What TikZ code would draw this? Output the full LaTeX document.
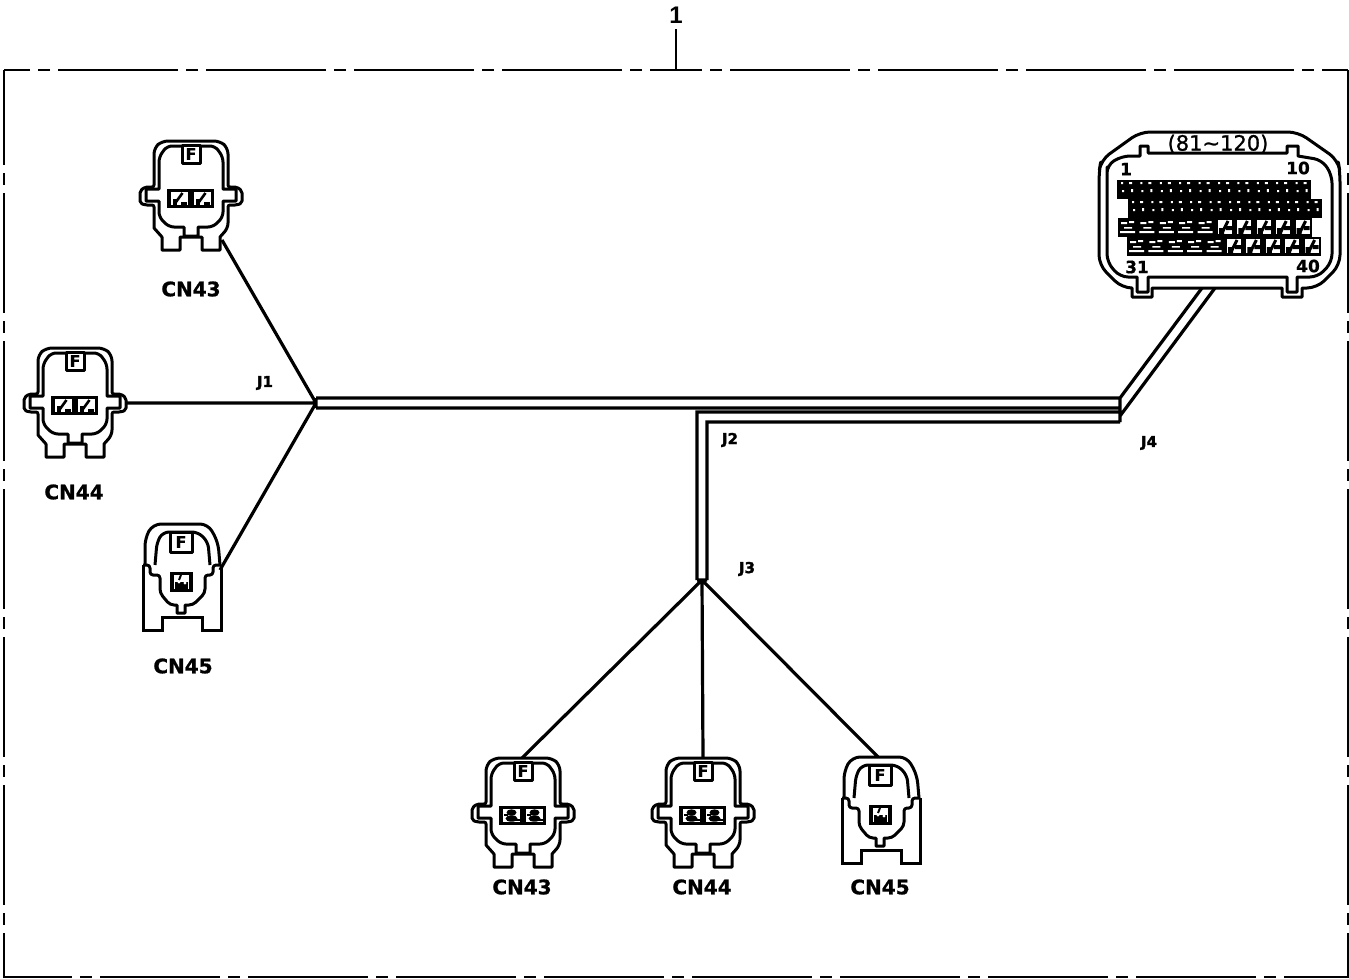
\documentclass[tikz,border=0pt]{standalone}
\usepackage{fontspec}
\setmainfont{DejaVu Sans}
\newfontfamily\arialfont{Liberation Sans}
\newcommand{\heavyfont}[1]{\bfseries\addfontfeature{FakeBold=#1}}
\tikzset{
	wire/.style={line width=3.2pt},
	shell/.style={line width=3pt,line join=round},
	rimline/.style={line width=2pt,dash pattern=on 120pt off 8pt on 12pt off 8pt},
	cnlabel/.style={font=\fontsize{20}{20}\selectfont\heavyfont{1},inner sep=0pt},
	jlabel/.style={font=\fontsize{15}{15}\selectfont\heavyfont{2},inner sep=0pt},
	pinlabel/.style={font=\fontsize{17}{17}\selectfont\heavyfont{0.6},inner sep=0pt},
}
\begin{document}
\begin{tikzpicture}[x=1pt,y=-1pt,line cap=butt]
	\useasboundingbox (0,0) rectangle (1349,978);
	\path
	(316,403) coordinate (J_1)
	(702,580) coordinate (J_3)
	(222,240) coordinate (T_1)
	(127,403) coordinate (T_2)
	(220,570) coordinate (T_3)
	(522,758) coordinate (T_4)
	(703,758) coordinate (T_5)
	(878,757) coordinate (T_6)
	(316,398) coordinate (U_1)
	(316,408) coordinate (U_2)
	(1120,398) coordinate (U_3)
	(1120,408) coordinate (U_4)
	(1120,412) coordinate (U_5)
	(1120,422) coordinate (U_6)
	(697,412) coordinate (V_1)
	(707,422) coordinate (V_2)
	(697,580) coordinate (V_3)
	(707,580) coordinate (V_4)
	(1202,288) coordinate (D_1)
	(1215,288) coordinate (D_2)
	(1120,416) coordinate (D_3)
	(676,70) coordinate (R_1)
	(676,29) coordinate (R_2)
	;
	% outer rim
	\draw[rimline,dash phase=94pt] (R_1)--(4,70);
	\draw[rimline,dash phase=94pt] (R_1)--(1348,70);
	\draw[rimline,dash phase=25pt,line width=2.6pt] (4,70)--(4,978);
	\draw[rimline,dash phase=25pt,line width=1.6pt] (1348,70)--(1348,978);
	\draw[rimline,dash phase=52pt,line width=1.6pt] (4,977)--(1348,977);
	\node[inner sep=0pt,font=\arialfont\bfseries\fontsize{24}{24}\selectfont] (N_1) at (676,15) {1};
	\draw[line width=2.8pt] (R_1)--(R_2);
	% wires
	\draw[wire]
	(J_1)--(T_1) (J_1)--(T_2) (J_1)--(T_3)
	(J_3)--(T_4) (J_3)--(T_5) (J_3)--(T_6)
	(U_1)--(U_3) (U_2)--(U_4)
	(V_3)--(V_1)--(U_5) (V_4)--(V_2)--(U_6)
	(U_1)--(U_2) (V_3)--(V_4)
	(U_3)--(U_6)
	(U_3)--(D_1) (D_3)--(D_2)
	;
	% connectors with two pins
	\foreach \x/\y/\t in {191/195/1,75/402/1,523/812/2,703/812/2}
	{
		\begin{scope}[shift={(\x,\y)}]
			\draw[shell,fill=white,rounded corners=6pt]
			(-29,-54)--(29,-54)--(37,-47)
			[rounded corners=2pt] --(37,-8)--(46,-8)--(51,-4)--(51,8)--(46,10)--(37,10)
			[rounded corners=5pt] --(37,33)
			[sharp corners] --(29,42)--(29,55)--(11,55)--(11,42)--(-11,42)--(-11,55)--(-29,55)--(-29,42)--(-37,33)
			[rounded corners=2pt] --(-37,10)--(-46,10)--(-51,8)--(-51,-4)--(-46,-8)--(-37,-8)
			[rounded corners=6pt] --(-37,-47)--cycle;
			\draw[shell,rounded corners=5pt]
			(-32,-6)--(-32,-38)--(-24,-49)--(24,-49)--(32,-38)
			[sharp corners] --(32,-6)--(45,-6)--(45,6)--(32,6)
			[rounded corners=5pt] --(32,22)--(22,32)
			[sharp corners] --(7,32)--(7,41)--(-7,41)--(-7,32)
			[rounded corners=5pt] --(-22,32)--(-32,22)
			[sharp corners] --(-32,6)--(-45,6)--(-45,-6)--cycle;
			\draw[shell,fill=white] (-9,-50) rectangle (9,-32);
			\node[inner sep=0pt,font=\fontsize{16}{16}\selectfont\heavyfont{0.5}] (F_\x) at (0,-41) {F};
			\fill[black] (-24,-6) rectangle (23,13);
			\foreach \s in {-11.5,11.5}
			{
				\fill[white] (\s-8.5,-3) rectangle (\s+8.5,10);
				\ifnum\t=1
				\draw[line width=2.6pt] (\s-5,9)--(\s+3,-2);
				\fill[black] (\s-7,4) rectangle (\s-3,10);
				\fill[black] (\s+1,7) rectangle (\s+7,10);
				\else
				\fill[black] (\s,0.5) ellipse (5 and 3.2);
				\fill[black] (\s,6.5) ellipse (6 and 3.2);
				\fill[black] (\s-8,2) rectangle (\s-4,4);
				\fill[black] (\s+4,7) rectangle (\s+8,9);
				\fi
			}
		\end{scope}
	}
	% connectors with one pin
	\foreach \x/\y in {182/577,881/810}
	{
		\begin{scope}[shift={(\x,\y)}]
			\draw[shell,fill=white,rounded corners=8pt]
			(-37,-12)--(-37,-39)--(-29,-53)--(26,-53)--(36,-35)--(38,-12);
			\draw[shell,rounded corners=6pt]
			(-27,-12)--(-25,-35)--(-19,-45)--(16,-45)--(26,-35)--(28,-12);
			\draw[shell,line join=miter]
			(-39,-12)--(-39,53)--(-20,53)--(-20,40)--(20,40)--(20,53)--(39,53)--(39,-12);
			\draw[shell,rounded corners=3pt]
			(-39,-12)--(-32,-12)--(-32,-2)--(-22,-2)
			[rounded corners=4pt] --(-22,16)--(-12,28)
			[sharp corners] --(-5,28)--(-5,36)--(3,36)--(3,28)
			[rounded corners=4pt] --(11,28)--(23,16)
			[rounded corners=3pt] --(23,-2)--(31,-2)--(31,-12)--(39,-12);
			\draw[shell,fill=white] (-12,-45) rectangle (10,-25);
			\node[inner sep=0pt,font=\fontsize{16}{16}\selectfont\heavyfont{0.5}] (F_\x) at (-1,-35) {F};
			\fill[black] (-12,-5) rectangle (11,15);
			\fill[white] (-8,-2) rectangle (7,12);
			\fill[black] (-7,5) rectangle (6,12);
			\fill[white] (-3,5) circle (1.6) (3,6) circle (1.6);
			\draw[line width=2pt] (-3,3)--(-1,-2);
		\end{scope}
	}
	% large connector
	\draw[shell,fill=white,rounded corners=10pt]
	(1140,132)--(1298,132)--(1338,160)--(1340,172)--(1340,265)--(1317,288)
	[sharp corners] --(1302,288)--(1302,297)--(1282,297)--(1282,288)--(1152,288)--(1152,297)--(1132,297)--(1132,288)
	[rounded corners=10pt] --(1122,288)--(1099,265)--(1099,172)--(1101,160)--cycle;
	\draw[shell,rounded corners=8pt]
	(1107,175)--(1107,165)--(1122,156)
	[sharp corners] --(1140,156)--(1140,146)--(1148,146)--(1148,153)--(1287,153)--(1287,146)--(1298,146)--(1298,156)
	[rounded corners=8pt] --(1322,160)--(1332,175)--(1332,262)--(1318,277)
	[sharp corners] --(1297,277)--(1297,292)--(1287,292)--(1287,277)--(1148,277)--(1148,292)--(1137,292)--(1137,277)
	[rounded corners=8pt] --(1120,277)--(1107,262)--cycle;
	% pin rows
	\foreach \rx/\ry/\k in {1117/180/0,1128/199/0,1118/218/1,1127/237/1}
	{
		\fill[black] (\rx,\ry) rectangle ++(194,18.5);
		\foreach \c in {0,...,9}
		{
			\begin{scope}[shift={(\rx+\c*19.4,\ry)}]
				\ifnum\k=0
				\fill[white] (4,2) rectangle ++(2,2) (12,2) rectangle ++(3,2) (5,10) rectangle ++(2,2) (14,9) rectangle ++(2,3);
				\else
				\ifnum\c<5
				\fill[white] (3,4) rectangle ++(6,2) (11,3) rectangle ++(5,2) (2,13) rectangle ++(15,2) (6,9) rectangle ++(8,1.5);
				\else
				\fill[white] (3,2) rectangle ++(14,14);
				\draw[line width=3pt] (7,15)--(13,3);
				\fill[black] (4,10) rectangle ++(5,6) (11,8) rectangle ++(6,4);
				\fi
				\fi
			\end{scope}
		}
	}
	\node[inner sep=0pt,font=\fontsize{21}{21}\selectfont\addfontfeature{FakeBold=1}] (Q_0) at (1218,144) {(81\char"7E 120)};
	\node[pinlabel] (Q_1) at (1126,169) {1};
	\node[pinlabel] (Q_2) at (1298,168) {10};
	\node[pinlabel] (Q_3) at (1137,267) {31};
	\node[pinlabel] (Q_4) at (1308,266) {40};
	% labels
	\foreach \n/\x/\y/\s in {L_1/191/289/CN43,L_2/74/492/CN44,L_3/183/666/CN45,L_4/522/887/CN43,L_5/702/887/CN44,L_6/880/887/CN45}
	{\node[cnlabel] (\n) at (\x,\y) {\s};}
	\foreach \n/\x/\y/\s in {M_1/265/383/J1,M_2/730/440/J2,M_3/747/569/J3,M_4/1149/443/J4}
	{\node[jlabel] (\n) at (\x,\y) {\s};}
\end{tikzpicture}
\end{document}
